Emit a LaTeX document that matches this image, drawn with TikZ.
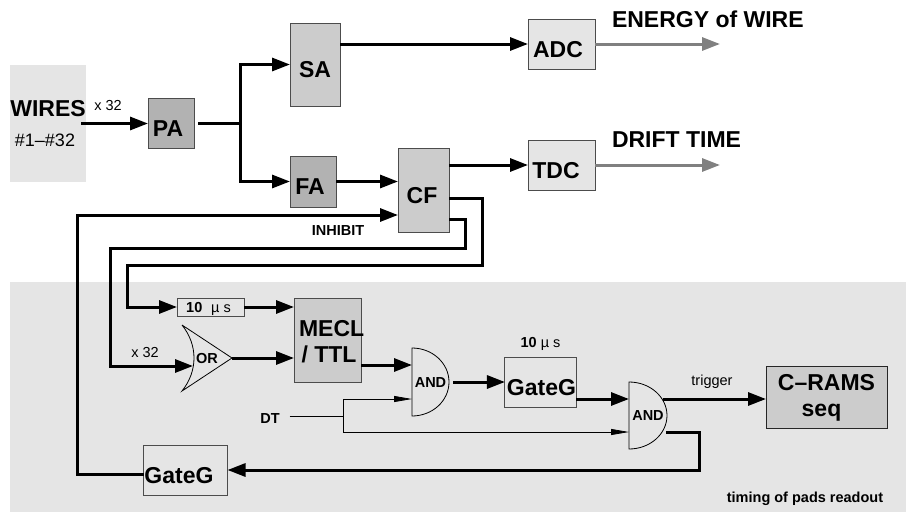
\documentclass[tikz,border=0pt]{standalone}
\usepackage{fontspec}
\setmainfont{Liberation Sans}
\usetikzlibrary{arrows.meta,calc}

\begin{document}
\begin{tikzpicture}[x=1pt, y=1pt, inner sep=0pt, outer sep=0pt,
    big/.style = {font=\bfseries\fontsize{23}{26}\selectfont},
    small/.style = {font=\fontsize{14.5}{16}\selectfont},
    smallb/.style = {font=\bfseries\fontsize{14.5}{16}\selectfont},
    main/.style = {draw=black!70, line width=1pt, big, text height=26pt, text depth=0pt},
    dims/.style 2 args = {minimum width=#1pt, minimum height=#2pt},
    light/.style = {main, fill=black!10},
    mid/.style = {main, fill=black!20},
    dark/.style = {main, fill=black!30},
    panel/.style = {fill=black!10, draw=none},
    gate/.style = {smallb, text height=10pt, text depth=0pt},
    wire/.style = {line width=3pt, black},
    sig/.style = {wire, -{Triangle[length=18pt, width=13pt]}},
    graysig/.style = {line width=3pt, black!50, -{Triangle[length=18pt, width=13pt]}},
    thinwire/.style = {line width=0.8pt, black},
    tin/.style = {thinwire, -{Triangle[length=18pt, width=6pt]}}]
    \useasboundingbox (0,0) rectangle (906,-512);
    \node[panel, dims={896}{230}] (band) at (458,-397) {};
    \node[panel, dims={76}{117}, align=center] (wires) at (48,-123.5)
        {\fontsize{23}{26}\selectfont\bfseries WIRES\\[17pt]\fontsize{18}{20}\selectfont\mdseries\hspace*{-6pt}\#1–\#32};
    \node[dark, dims={46}{50}] (pa) [right of=wires, node distance=123pt] {\hspace*{-6pt}PA};
    \node[mid, dims={50}{83}] (sa) [right of=pa, node distance=144pt, yshift=59pt] {SA};
    \node[dark, dims={46}{51}] (fa) [right of=pa, node distance=142pt, yshift=-58pt] {\hspace*{-6pt}FA};
    \node[mid, dims={51}{84}] (cf) [right of=fa, node distance=110.5pt, yshift=-8.5pt] {\hspace*{-3pt}CF};
    \node[light, dims={67}{50}] (adc) [right of=sa, node distance=246.5pt, yshift=20.5pt] {\hspace*{-7pt}ADC};
    \node[light, dims={67}{50}] (tdc) [below of=adc, node distance=121pt] {\hspace*{-11pt}TDC};
    \node[big] (energy) [right of=adc, node distance=50.5pt, yshift=25pt, anchor=west] {ENERGY of WIRE};
    \node[big] (drift) [right of=tdc, node distance=50.5pt, yshift=25pt, anchor=west] {DRIFT TIME};
    \node[small] (xwires) [right of=wires, node distance=60pt, yshift=17.5pt] {x 32};
    \node[smallb] (inhibit) [left of=cf, node distance=85.5pt, yshift=-41pt] {INHIBIT};
    \node[light, dims={67}{18}, small, text height=10pt] (delay) [below of=wires, node distance=183.5pt, xshift=162.5pt]
        {\hspace*{-4pt}{\bfseries 10}\,\, µ s};
    \node[mid, dims={67}{84}, align=center, text height=44.5pt] (mecl) [right of=delay, node distance=117pt, yshift=-33pt]
        {\makebox[60pt][l]{\hspace*{1.5pt}MECL}\\\makebox[60pt][l]{\hspace*{4pt}/ TTL}};
    \node[gate, dims={50}{66}] (or1) [below of=delay, node distance=51pt, xshift=-3.5pt] {OR};
    \node[small] (xor) [left of=or1, node distance=62pt, yshift=5pt] {x 32};
    \node[gate, dims={37}{68}] (and1) [right of=mecl, node distance=103pt, yshift=-42pt] {AND};
    \node[main, dims={67}{50}] (gate1) [right of=and1, node distance=110pt] {\hspace*{2pt}GateG};
    \node[smallb] (width) [above of=gate1, node distance=38pt] {10 {\mdseries µ s}};
    \node[gate, dims={38}{67}] (and2) [right of=gate1, node distance=107.5pt, yshift=-33.5pt] {AND};
    \node[small] (trigger) [right of=and2, node distance=64pt, yshift=33.5pt] {trigger};
    \node[mid, dims={121}{62}, align=center, text height=38.5pt, draw=black!85] (crams) [right of=and2, node distance=178.5pt, yshift=18.5pt]
        {C–RAMS\\\hspace*{-10pt}seq};
    \node[main, dims={84}{50}] (gate2) [below of=or1, node distance=112pt, xshift=-21.5pt] {\hspace*{-13pt}GateG};
    \node[smallb] (dt) [left of=and1, node distance=160.5pt, yshift=-37pt] {DT};
    \node[smallb] (pads) [below of=crams, node distance=102pt, xshift=-21.5pt] {timing of pads readout};
    \draw[thinwire] (and1.north west) arc[start angle=90, end angle=-90, x radius=37, y radius=34] -- cycle;
    \draw[thinwire] (and2.north west) arc[start angle=90, end angle=-90, x radius=38, y radius=33.5] -- cycle;
    \draw[thinwire] (or1.north west) -- (or1.east) -- (or1.south west)
        .. controls ([xshift=16pt,yshift=20pt]or1.south west) and ([xshift=16pt,yshift=-20pt]or1.north west) .. (or1.north west);
    \coordinate (split) at ([xshift=46pt]pa.east);
    \coordinate (cfa) at ([yshift=-8pt]cf.east);
    \coordinate (cfb) at ([yshift=-29pt]cf.east);
    \coordinate (cfin) at ([yshift=-25pt]cf.west);
    \coordinate (gateout) at ([yshift=-4pt]gate2.west);
    \coordinate (orin) at ([xshift=11pt,yshift=-8pt]or1.west);
    \coordinate (meclout) at ([yshift=-25pt]mecl.east);
    \coordinate (gout) at ([yshift=-17pt]gate1.east);
    \coordinate (andout) at ([xshift=-4pt,yshift=16.5pt]and2.east);
    \coordinate (andback) at ([xshift=-1pt,yshift=-16.5pt]and2.east);
    \coordinate (dtout) at ([xshift=10pt,yshift=3pt]dt.east);
    \coordinate (dtjoin) at ([xshift=54pt]dtout);
    \coordinate (adcout) at ([xshift=125pt]adc.east);
    \coordinate (tdcout) at ([xshift=125pt]tdc.east);
    \draw[sig] ([xshift=-5pt]wires.east) -- (pa);
    \draw[wire] ([xshift=4pt]pa.east) -- (split);
    \draw[sig] (split) |- (sa);
    \draw[sig] (split) |- (fa);
    \draw[sig] (sa.east |- adc) -- (adc);
    \draw[sig] (fa.east) -- (fa.east -| cf.west);
    \draw[sig] (cf.east |- tdc) -- (tdc);
    \draw[graysig] (adc.east) -- (adcout);
    \draw[graysig] (tdc.east) -- (tdcout);
    \draw[sig] (gateout) -- ++(-66.5,0) |- (cfin);
    \draw[sig] (cfa) -- ++(33,0) -- ++(0,-67) -- ++(-355,0) |- (delay);
    \draw[sig] (cfb) -- ++(16,0) -- ++(0,-29) -- ++(-355,0) |- (orin);
    \draw[sig] (delay.east) -- (delay.east -| mecl.west);
    \draw[sig] (or1.east) -- (or1.east -| mecl.west);
    \draw[sig] (meclout) -- (meclout -| and1.west);
    \draw[sig] ([xshift=4pt]and1.east) -- (gate1);
    \draw[sig] (gout) -- (gout -| and2.west);
    \draw[sig] (andout) -- (andout -| crams.west);
    \draw[sig] (andback) -- ++(33,0) |- (gate2);
    \draw[thinwire] (dtout) -- (dtjoin);
    \draw[tin] (dtjoin) |- ([yshift=-17pt]and1.west);
    \draw[tin] (dtjoin) |- ([yshift=-16.5pt]and2.west);
\end{tikzpicture}
\end{document}
